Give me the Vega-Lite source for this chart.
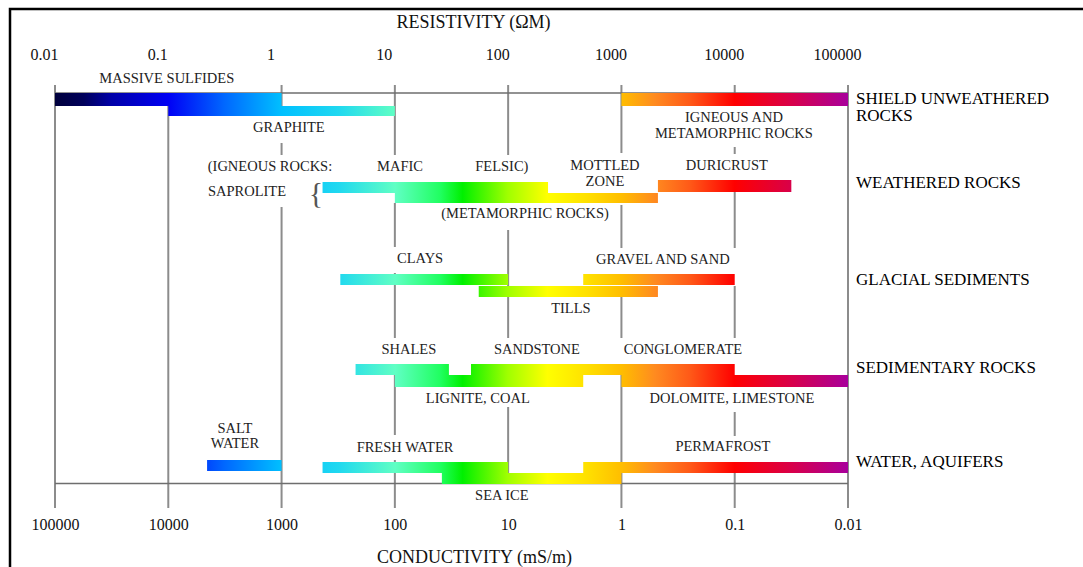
{
  "$schema": "https://vega.github.io/schema/vega-lite/v6.json",
  "width": 1079,
  "height": 564,
  "autosize": {"type": "none"},
  "padding": {"left": 10, "top": 9, "right": -6, "bottom": -6},
  "background": "white",
  "config": {"view": {"stroke": "#000", "strokeWidth": 2.5}, "text": {"font": "Liberation Serif"}},
  "data": {"values": [
    {"kind": "grid", "x": 0.01, "y": 19, "y2": 124.75},
    {"kind": "grid", "x": 0.1, "y": 24.25, "y2": 124.75},
    {"kind": "grid", "x": 1, "y": 19, "y2": 24.25},
    {"kind": "grid", "x": 1, "y": 33.5, "y2": 36.5},
    {"kind": "grid", "x": 1, "y": 49.5, "y2": 124.75},
    {"kind": "grid", "x": 10, "y": 19, "y2": 36.5},
    {"kind": "grid", "x": 10, "y": 48.5, "y2": 59.5},
    {"kind": "grid", "x": 10, "y": 66, "y2": 82.25},
    {"kind": "grid", "x": 10, "y": 91.5, "y2": 106.5},
    {"kind": "grid", "x": 10, "y": 112.75, "y2": 124.75},
    {"kind": "grid", "x": 100, "y": 19, "y2": 36.5},
    {"kind": "grid", "x": 100, "y": 55.25, "y2": 82.25},
    {"kind": "grid", "x": 100, "y": 99.5, "y2": 118.75},
    {"kind": "grid", "x": 1000, "y": 19, "y2": 36},
    {"kind": "grid", "x": 1000, "y": 49, "y2": 59.75},
    {"kind": "grid", "x": 1000, "y": 72, "y2": 82.25},
    {"kind": "grid", "x": 1000, "y": 91.5, "y2": 124.75},
    {"kind": "grid", "x": 10000, "y": 19, "y2": 21},
    {"kind": "grid", "x": 10000, "y": 34.5, "y2": 36.25},
    {"kind": "grid", "x": 10000, "y": 45.75, "y2": 59.75},
    {"kind": "grid", "x": 10000, "y": 69.25, "y2": 82.25},
    {"kind": "grid", "x": 10000, "y": 100.75, "y2": 106.75},
    {"kind": "grid", "x": 10000, "y": 116, "y2": 124.75},
    {"kind": "grid", "x": 100000, "y": 19, "y2": 124.75},
    {"kind": "hline", "x": 0.01, "x2": 100000, "y": 21},
    {"kind": "hline", "x": 0.01, "x2": 100000, "y": 118.6},
    {"kind": "bar", "name": "sulfides", "x": 0.01, "x2": 1, "y": 21, "y2": 24.25},
    {"kind": "bar", "name": "graphite", "x": 0.1, "x2": 10, "y": 24.25, "y2": 26.75},
    {"kind": "bar", "name": "igneous", "x": 1000, "x2": 100000, "y": 21, "y2": 24.25},
    {"kind": "bar", "name": "sap1", "x": 2.3, "x2": 225, "y": 43.25, "y2": 46},
    {"kind": "bar", "name": "sap2", "x": 10, "x2": 2100, "y": 46, "y2": 48.5},
    {"kind": "bar", "name": "duricrust", "x": 2100, "x2": 31600, "y": 42.75, "y2": 45.75},
    {"kind": "bar", "name": "clays", "x": 3.3, "x2": 100, "y": 66.25, "y2": 69},
    {"kind": "bar", "name": "gravel", "x": 460, "x2": 10000, "y": 66.25, "y2": 69},
    {"kind": "bar", "name": "tills", "x": 55, "x2": 2100, "y": 69.25, "y2": 72},
    {"kind": "bar", "name": "shales", "x": 4.5, "x2": 30, "y": 88.75, "y2": 91.5},
    {"kind": "bar", "name": "sandstone", "x": 47, "x2": 10000, "y": 88.75, "y2": 91.5},
    {"kind": "bar", "name": "lignite", "x": 10, "x2": 460, "y": 91.5, "y2": 94.5},
    {"kind": "bar", "name": "dolomite", "x": 1000, "x2": 100000, "y": 91.5, "y2": 94.5},
    {"kind": "bar", "name": "salt", "x": 0.22, "x2": 1, "y": 112.75, "y2": 115.5},
    {"kind": "bar", "name": "fresh", "x": 2.3, "x2": 100, "y": 113.25, "y2": 116},
    {"kind": "bar", "name": "seaice", "x": 26, "x2": 1000, "y": 116, "y2": 118.75},
    {"kind": "bar", "name": "permafrost", "x": 460, "x2": 100000, "y": 113.25, "y2": 116},
    {"kind": "label", "text": "MASSIVE SULFIDES", "x": 0.097, "y": 17.5},
    {"kind": "label", "text": "GRAPHITE", "x": 1.16, "y": 29.75},
    {"kind": "label", "text": "IGNEOUS AND", "x": 9840, "y": 27.25},
    {"kind": "label", "text": "METAMORPHIC ROCKS", "x": 9840, "y": 31.25},
    {"kind": "label", "text": "(IGNEOUS ROCKS:", "x": 0.79, "y": 39.5},
    {"kind": "label", "text": "MAFIC", "x": 11.1, "y": 39.5},
    {"kind": "label", "text": "FELSIC)", "x": 88, "y": 39.5},
    {"kind": "label", "text": "MOTTLED", "x": 715, "y": 39.25},
    {"kind": "label", "text": "ZONE", "x": 715, "y": 43.25},
    {"kind": "label", "text": "DURICRUST", "x": 8530, "y": 39.25},
    {"kind": "label", "text": "SAPROLITE", "x": 0.495, "y": 45.75},
    {"kind": "label", "text": "(METAMORPHIC ROCKS)", "x": 141, "y": 51.25},
    {"kind": "label", "text": "CLAYS", "x": 16.7, "y": 62.5},
    {"kind": "label", "text": "GRAVEL AND SAND", "x": 2323, "y": 62.75},
    {"kind": "label", "text": "TILLS", "x": 358, "y": 75},
    {"kind": "label", "text": "SHALES", "x": 13.3, "y": 85.25},
    {"kind": "label", "text": "SANDSTONE", "x": 179.5, "y": 85.25},
    {"kind": "label", "text": "CONGLOMERATE", "x": 3490, "y": 85.25},
    {"kind": "label", "text": "LIGNITE, COAL", "x": 54, "y": 97.5},
    {"kind": "label", "text": "DOLOMITE, LIMESTONE", "x": 9450, "y": 97.5},
    {"kind": "label", "text": "SALT", "x": 0.388, "y": 105},
    {"kind": "label", "text": "WATER", "x": 0.388, "y": 108.75},
    {"kind": "label", "text": "FRESH WATER", "x": 12.3, "y": 109.75},
    {"kind": "label", "text": "PERMAFROST", "x": 7870, "y": 109.5},
    {"kind": "label", "text": "SEA ICE", "x": 88, "y": 121.75},
    {"kind": "group", "text": "SHIELD UNWEATHERED", "x": 100000, "y": 22.375},
    {"kind": "group", "text": "ROCKS", "x": 100000, "y": 26.75},
    {"kind": "group", "text": "WEATHERED ROCKS", "x": 100000, "y": 43.5},
    {"kind": "group", "text": "GLACIAL SEDIMENTS", "x": 100000, "y": 67.75},
    {"kind": "group", "text": "SEDIMENTARY ROCKS", "x": 100000, "y": 89.75},
    {"kind": "group", "text": "WATER, AQUIFERS", "x": 100000, "y": 113.25},
    {"kind": "brace", "text": "{", "x": 2.01, "y": 46.25}
  ]},
  "encoding": {
    "x": {"field": "x", "type": "quantitative", "scale": {"type": "log", "domain": [0.01, 100000], "range": [45, 838], "nice": false}, "axis": null},
    "y": {"field": "y", "type": "quantitative", "scale": {"type": "linear", "domain": [0, 141], "range": [0, 564], "nice": false, "zero": false}, "axis": null}
  },
  "layer": [
    {
      "transform": [{"filter": "datum.kind === 'grid'"}],
      "mark": {"type": "rule", "color": "#8c8c8c", "strokeWidth": 2},
      "encoding": {
        "x": {"field": "x", "type": "quantitative", "scale": {"type": "log", "domain": [0.01, 100000], "range": [45, 838], "nice": false},
          "axis": {"orient": "bottom", "values": [0.01, 0.1, 1, 10, 100, 1000, 10000, 100000], "labelExpr": "format(1000 / datum.value, '~g')", "domain": false, "ticks": false, "tickSize": 0, "grid": false, "labelPadding": 0, "labelBaseline": "alphabetic", "labelFont": "Liberation Serif", "labelFontSize": 16, "labelColor": "#111", "labelFlush": false, "labelOverlap": false, "labelBound": false, "offset": -44, "title": "CONDUCTIVITY (mS/m)", "titleFont": "Liberation Serif", "titleFontSize": 18, "titleFontWeight": "normal", "titleColor": "#111", "titleX": 464, "titleY": 33, "titleBaseline": "alphabetic", "titleAlign": "center"}},
        "y2": {"field": "y2"}
      }
    },
    {
      "transform": [{"filter": "datum.kind === 'hline'"}],
      "mark": {"type": "rule", "color": "#6e6e6e", "strokeWidth": 1.5},
      "encoding": {
        "x": {"field": "x", "type": "quantitative", "scale": {"type": "log", "domain": [0.01, 100000], "range": [45, 838], "nice": false},
          "axis": {"orient": "top", "values": [0.01, 0.1, 1, 10, 100, 1000, 10000, 100000], "labelExpr": "format(datum.value, '~g')", "domain": false, "ticks": false, "tickSize": 0, "grid": false, "labelPadding": 0, "labelBaseline": "alphabetic", "labelFont": "Liberation Serif", "labelFontSize": 16, "labelColor": "#111", "labelOffset": -11, "labelFlush": false, "labelOverlap": false, "labelBound": false, "offset": -50, "title": "RESISTIVITY (ΩM)", "titleFont": "Liberation Serif", "titleFontSize": 18, "titleFontWeight": "normal", "titleColor": "#111", "titleX": 463, "titleY": -32, "titleBaseline": "alphabetic", "titleAlign": "center"}},
        "x2": {"field": "x2"}
      }
    },
    {"transform": [{"filter": "datum.name === 'sulfides'"}], "mark": {"type": "rect", "fill": {"gradient": "linear", "x1": 0, "x2": 3.5, "y1": 0, "y2": 0, "stops": [{"offset": 0, "color": "#00003c"}, {"offset": 0.036, "color": "#00005a"}, {"offset": 0.071, "color": "#0000a8"}, {"offset": 0.143, "color": "#0000f5"}, {"offset": 0.214, "color": "#0068ff"}, {"offset": 0.286, "color": "#00c0ff"}, {"offset": 0.357, "color": "#20d8f0"}, {"offset": 0.429, "color": "#60ffc4"}, {"offset": 0.486, "color": "#20ff60"}, {"offset": 0.514, "color": "#00f000"}, {"offset": 0.571, "color": "#a0ff00"}, {"offset": 0.621, "color": "#ffff00"}, {"offset": 0.671, "color": "#ffe000"}, {"offset": 0.714, "color": "#ffbe00"}, {"offset": 0.757, "color": "#ff8a20"}, {"offset": 0.8, "color": "#ff5a18"}, {"offset": 0.857, "color": "#ff0000"}, {"offset": 0.929, "color": "#d8004a"}, {"offset": 1, "color": "#a8009c"}]}}, "encoding": {"x2": {"field": "x2"}, "y2": {"field": "y2"}}},
    {"transform": [{"filter": "datum.name === 'graphite'"}], "mark": {"type": "rect", "fill": {"gradient": "linear", "x1": -0.5, "x2": 3, "y1": 0, "y2": 0, "stops": [{"offset": 0, "color": "#00003c"}, {"offset": 0.036, "color": "#00005a"}, {"offset": 0.071, "color": "#0000a8"}, {"offset": 0.143, "color": "#0000f5"}, {"offset": 0.214, "color": "#0068ff"}, {"offset": 0.286, "color": "#00c0ff"}, {"offset": 0.357, "color": "#20d8f0"}, {"offset": 0.429, "color": "#60ffc4"}, {"offset": 0.486, "color": "#20ff60"}, {"offset": 0.514, "color": "#00f000"}, {"offset": 0.571, "color": "#a0ff00"}, {"offset": 0.621, "color": "#ffff00"}, {"offset": 0.671, "color": "#ffe000"}, {"offset": 0.714, "color": "#ffbe00"}, {"offset": 0.757, "color": "#ff8a20"}, {"offset": 0.8, "color": "#ff5a18"}, {"offset": 0.857, "color": "#ff0000"}, {"offset": 0.929, "color": "#d8004a"}, {"offset": 1, "color": "#a8009c"}]}}, "encoding": {"x2": {"field": "x2"}, "y2": {"field": "y2"}}},
    {"transform": [{"filter": "datum.name === 'igneous'"}], "mark": {"type": "rect", "fill": {"gradient": "linear", "x1": -2.5, "x2": 1, "y1": 0, "y2": 0, "stops": [{"offset": 0, "color": "#00003c"}, {"offset": 0.036, "color": "#00005a"}, {"offset": 0.071, "color": "#0000a8"}, {"offset": 0.143, "color": "#0000f5"}, {"offset": 0.214, "color": "#0068ff"}, {"offset": 0.286, "color": "#00c0ff"}, {"offset": 0.357, "color": "#20d8f0"}, {"offset": 0.429, "color": "#60ffc4"}, {"offset": 0.486, "color": "#20ff60"}, {"offset": 0.514, "color": "#00f000"}, {"offset": 0.571, "color": "#a0ff00"}, {"offset": 0.621, "color": "#ffff00"}, {"offset": 0.671, "color": "#ffe000"}, {"offset": 0.714, "color": "#ffbe00"}, {"offset": 0.757, "color": "#ff8a20"}, {"offset": 0.8, "color": "#ff5a18"}, {"offset": 0.857, "color": "#ff0000"}, {"offset": 0.929, "color": "#d8004a"}, {"offset": 1, "color": "#a8009c"}]}}, "encoding": {"x2": {"field": "x2"}, "y2": {"field": "y2"}}},
    {"transform": [{"filter": "datum.name === 'sap1'"}], "mark": {"type": "rect", "fill": {"gradient": "linear", "x1": -1.1865, "x2": 2.3302, "y1": 0, "y2": 0, "stops": [{"offset": 0, "color": "#00003c"}, {"offset": 0.036, "color": "#00005a"}, {"offset": 0.071, "color": "#0000a8"}, {"offset": 0.143, "color": "#0000f5"}, {"offset": 0.214, "color": "#0068ff"}, {"offset": 0.286, "color": "#00c0ff"}, {"offset": 0.357, "color": "#20d8f0"}, {"offset": 0.429, "color": "#60ffc4"}, {"offset": 0.486, "color": "#20ff60"}, {"offset": 0.514, "color": "#00f000"}, {"offset": 0.571, "color": "#a0ff00"}, {"offset": 0.621, "color": "#ffff00"}, {"offset": 0.671, "color": "#ffe000"}, {"offset": 0.714, "color": "#ffbe00"}, {"offset": 0.757, "color": "#ff8a20"}, {"offset": 0.8, "color": "#ff5a18"}, {"offset": 0.857, "color": "#ff0000"}, {"offset": 0.929, "color": "#d8004a"}, {"offset": 1, "color": "#a8009c"}]}}, "encoding": {"x2": {"field": "x2"}, "y2": {"field": "y2"}}},
    {"transform": [{"filter": "datum.name === 'sap2'"}], "mark": {"type": "rect", "fill": {"gradient": "linear", "x1": -1.2919, "x2": 1.7225, "y1": 0, "y2": 0, "stops": [{"offset": 0, "color": "#00003c"}, {"offset": 0.036, "color": "#00005a"}, {"offset": 0.071, "color": "#0000a8"}, {"offset": 0.143, "color": "#0000f5"}, {"offset": 0.214, "color": "#0068ff"}, {"offset": 0.286, "color": "#00c0ff"}, {"offset": 0.357, "color": "#20d8f0"}, {"offset": 0.429, "color": "#60ffc4"}, {"offset": 0.486, "color": "#20ff60"}, {"offset": 0.514, "color": "#00f000"}, {"offset": 0.571, "color": "#a0ff00"}, {"offset": 0.621, "color": "#ffff00"}, {"offset": 0.671, "color": "#ffe000"}, {"offset": 0.714, "color": "#ffbe00"}, {"offset": 0.757, "color": "#ff8a20"}, {"offset": 0.8, "color": "#ff5a18"}, {"offset": 0.857, "color": "#ff0000"}, {"offset": 0.929, "color": "#d8004a"}, {"offset": 1, "color": "#a8009c"}]}}, "encoding": {"x2": {"field": "x2"}, "y2": {"field": "y2"}}},
    {"transform": [{"filter": "datum.name === 'duricrust'"}], "mark": {"type": "rect", "fill": {"gradient": "linear", "x1": -4.52, "x2": 1.4249, "y1": 0, "y2": 0, "stops": [{"offset": 0, "color": "#00003c"}, {"offset": 0.036, "color": "#00005a"}, {"offset": 0.071, "color": "#0000a8"}, {"offset": 0.143, "color": "#0000f5"}, {"offset": 0.214, "color": "#0068ff"}, {"offset": 0.286, "color": "#00c0ff"}, {"offset": 0.357, "color": "#20d8f0"}, {"offset": 0.429, "color": "#60ffc4"}, {"offset": 0.486, "color": "#20ff60"}, {"offset": 0.514, "color": "#00f000"}, {"offset": 0.571, "color": "#a0ff00"}, {"offset": 0.621, "color": "#ffff00"}, {"offset": 0.671, "color": "#ffe000"}, {"offset": 0.714, "color": "#ffbe00"}, {"offset": 0.757, "color": "#ff8a20"}, {"offset": 0.8, "color": "#ff5a18"}, {"offset": 0.857, "color": "#ff0000"}, {"offset": 0.929, "color": "#d8004a"}, {"offset": 1, "color": "#a8009c"}]}}, "encoding": {"x2": {"field": "x2"}, "y2": {"field": "y2"}}},
    {"transform": [{"filter": "datum.name === 'clays'"}], "mark": {"type": "rect", "fill": {"gradient": "linear", "x1": -1.7, "x2": 3.025, "y1": 0, "y2": 0, "stops": [{"offset": 0, "color": "#00003c"}, {"offset": 0.036, "color": "#00005a"}, {"offset": 0.071, "color": "#0000a8"}, {"offset": 0.143, "color": "#0000f5"}, {"offset": 0.214, "color": "#0068ff"}, {"offset": 0.286, "color": "#00c0ff"}, {"offset": 0.357, "color": "#20d8f0"}, {"offset": 0.429, "color": "#60ffc4"}, {"offset": 0.486, "color": "#20ff60"}, {"offset": 0.514, "color": "#00f000"}, {"offset": 0.571, "color": "#a0ff00"}, {"offset": 0.621, "color": "#ffff00"}, {"offset": 0.671, "color": "#ffe000"}, {"offset": 0.714, "color": "#ffbe00"}, {"offset": 0.757, "color": "#ff8a20"}, {"offset": 0.8, "color": "#ff5a18"}, {"offset": 0.857, "color": "#ff0000"}, {"offset": 0.929, "color": "#d8004a"}, {"offset": 1, "color": "#a8009c"}]}}, "encoding": {"x2": {"field": "x2"}, "y2": {"field": "y2"}}},
    {"transform": [{"filter": "datum.name === 'gravel'"}], "mark": {"type": "rect", "fill": {"gradient": "linear", "x1": -3.487, "x2": 1.7478, "y1": 0, "y2": 0, "stops": [{"offset": 0, "color": "#00003c"}, {"offset": 0.036, "color": "#00005a"}, {"offset": 0.071, "color": "#0000a8"}, {"offset": 0.143, "color": "#0000f5"}, {"offset": 0.214, "color": "#0068ff"}, {"offset": 0.286, "color": "#00c0ff"}, {"offset": 0.357, "color": "#20d8f0"}, {"offset": 0.429, "color": "#60ffc4"}, {"offset": 0.486, "color": "#20ff60"}, {"offset": 0.514, "color": "#00f000"}, {"offset": 0.571, "color": "#a0ff00"}, {"offset": 0.621, "color": "#ffff00"}, {"offset": 0.671, "color": "#ffe000"}, {"offset": 0.714, "color": "#ffbe00"}, {"offset": 0.757, "color": "#ff8a20"}, {"offset": 0.8, "color": "#ff5a18"}, {"offset": 0.857, "color": "#ff0000"}, {"offset": 0.929, "color": "#d8004a"}, {"offset": 1, "color": "#a8009c"}]}}, "encoding": {"x2": {"field": "x2"}, "y2": {"field": "y2"}}},
    {"transform": [{"filter": "datum.name === 'tills'"}], "mark": {"type": "rect", "fill": {"gradient": "linear", "x1": -2.3646, "x2": 2.0607, "y1": 0, "y2": 0, "stops": [{"offset": 0, "color": "#00003c"}, {"offset": 0.036, "color": "#00005a"}, {"offset": 0.071, "color": "#0000a8"}, {"offset": 0.143, "color": "#0000f5"}, {"offset": 0.214, "color": "#0068ff"}, {"offset": 0.286, "color": "#00c0ff"}, {"offset": 0.357, "color": "#20d8f0"}, {"offset": 0.429, "color": "#60ffc4"}, {"offset": 0.486, "color": "#20ff60"}, {"offset": 0.514, "color": "#00f000"}, {"offset": 0.571, "color": "#a0ff00"}, {"offset": 0.621, "color": "#ffff00"}, {"offset": 0.671, "color": "#ffe000"}, {"offset": 0.714, "color": "#ffbe00"}, {"offset": 0.757, "color": "#ff8a20"}, {"offset": 0.8, "color": "#ff5a18"}, {"offset": 0.857, "color": "#ff0000"}, {"offset": 0.929, "color": "#d8004a"}, {"offset": 1, "color": "#a8009c"}]}}, "encoding": {"x2": {"field": "x2"}, "y2": {"field": "y2"}}},
    {"transform": [{"filter": "datum.name === 'shales'"}], "mark": {"type": "rect", "fill": {"gradient": "linear", "x1": -3.2203, "x2": 5.2759, "y1": 0, "y2": 0, "stops": [{"offset": 0, "color": "#00003c"}, {"offset": 0.036, "color": "#00005a"}, {"offset": 0.071, "color": "#0000a8"}, {"offset": 0.143, "color": "#0000f5"}, {"offset": 0.214, "color": "#0068ff"}, {"offset": 0.286, "color": "#00c0ff"}, {"offset": 0.357, "color": "#20d8f0"}, {"offset": 0.429, "color": "#60ffc4"}, {"offset": 0.486, "color": "#20ff60"}, {"offset": 0.514, "color": "#00f000"}, {"offset": 0.571, "color": "#a0ff00"}, {"offset": 0.621, "color": "#ffff00"}, {"offset": 0.671, "color": "#ffe000"}, {"offset": 0.714, "color": "#ffbe00"}, {"offset": 0.757, "color": "#ff8a20"}, {"offset": 0.8, "color": "#ff5a18"}, {"offset": 0.857, "color": "#ff0000"}, {"offset": 0.929, "color": "#d8004a"}, {"offset": 1, "color": "#a8009c"}]}}, "encoding": {"x2": {"field": "x2"}, "y2": {"field": "y2"}}},
    {"transform": [{"filter": "datum.name === 'sandstone'"}], "mark": {"type": "rect", "fill": {"gradient": "linear", "x1": -1.5774, "x2": 1.4296, "y1": 0, "y2": 0, "stops": [{"offset": 0, "color": "#00003c"}, {"offset": 0.036, "color": "#00005a"}, {"offset": 0.071, "color": "#0000a8"}, {"offset": 0.143, "color": "#0000f5"}, {"offset": 0.214, "color": "#0068ff"}, {"offset": 0.286, "color": "#00c0ff"}, {"offset": 0.357, "color": "#20d8f0"}, {"offset": 0.429, "color": "#60ffc4"}, {"offset": 0.486, "color": "#20ff60"}, {"offset": 0.514, "color": "#00f000"}, {"offset": 0.571, "color": "#a0ff00"}, {"offset": 0.621, "color": "#ffff00"}, {"offset": 0.671, "color": "#ffe000"}, {"offset": 0.714, "color": "#ffbe00"}, {"offset": 0.757, "color": "#ff8a20"}, {"offset": 0.8, "color": "#ff5a18"}, {"offset": 0.857, "color": "#ff0000"}, {"offset": 0.929, "color": "#d8004a"}, {"offset": 1, "color": "#a8009c"}]}}, "encoding": {"x2": {"field": "x2"}, "y2": {"field": "y2"}}},
    {"transform": [{"filter": "datum.name === 'lignite'"}], "mark": {"type": "rect", "fill": {"gradient": "linear", "x1": -1.8042, "x2": 2.4056, "y1": 0, "y2": 0, "stops": [{"offset": 0, "color": "#00003c"}, {"offset": 0.036, "color": "#00005a"}, {"offset": 0.071, "color": "#0000a8"}, {"offset": 0.143, "color": "#0000f5"}, {"offset": 0.214, "color": "#0068ff"}, {"offset": 0.286, "color": "#00c0ff"}, {"offset": 0.357, "color": "#20d8f0"}, {"offset": 0.429, "color": "#60ffc4"}, {"offset": 0.486, "color": "#20ff60"}, {"offset": 0.514, "color": "#00f000"}, {"offset": 0.571, "color": "#a0ff00"}, {"offset": 0.621, "color": "#ffff00"}, {"offset": 0.671, "color": "#ffe000"}, {"offset": 0.714, "color": "#ffbe00"}, {"offset": 0.757, "color": "#ff8a20"}, {"offset": 0.8, "color": "#ff5a18"}, {"offset": 0.857, "color": "#ff0000"}, {"offset": 0.929, "color": "#d8004a"}, {"offset": 1, "color": "#a8009c"}]}}, "encoding": {"x2": {"field": "x2"}, "y2": {"field": "y2"}}},
    {"transform": [{"filter": "datum.name === 'dolomite'"}], "mark": {"type": "rect", "fill": {"gradient": "linear", "x1": -2.5, "x2": 1, "y1": 0, "y2": 0, "stops": [{"offset": 0, "color": "#00003c"}, {"offset": 0.036, "color": "#00005a"}, {"offset": 0.071, "color": "#0000a8"}, {"offset": 0.143, "color": "#0000f5"}, {"offset": 0.214, "color": "#0068ff"}, {"offset": 0.286, "color": "#00c0ff"}, {"offset": 0.357, "color": "#20d8f0"}, {"offset": 0.429, "color": "#60ffc4"}, {"offset": 0.486, "color": "#20ff60"}, {"offset": 0.514, "color": "#00f000"}, {"offset": 0.571, "color": "#a0ff00"}, {"offset": 0.621, "color": "#ffff00"}, {"offset": 0.671, "color": "#ffe000"}, {"offset": 0.714, "color": "#ffbe00"}, {"offset": 0.757, "color": "#ff8a20"}, {"offset": 0.8, "color": "#ff5a18"}, {"offset": 0.857, "color": "#ff0000"}, {"offset": 0.929, "color": "#d8004a"}, {"offset": 1, "color": "#a8009c"}]}}, "encoding": {"x2": {"field": "x2"}, "y2": {"field": "y2"}}},
    {"transform": [{"filter": "datum.name === 'salt'"}], "mark": {"type": "rect", "fill": {"gradient": "linear", "x1": -2.0414, "x2": 8.6034, "y1": 0, "y2": 0, "stops": [{"offset": 0, "color": "#00003c"}, {"offset": 0.036, "color": "#00005a"}, {"offset": 0.071, "color": "#0000a8"}, {"offset": 0.143, "color": "#0000f5"}, {"offset": 0.214, "color": "#0068ff"}, {"offset": 0.286, "color": "#00c0ff"}, {"offset": 0.357, "color": "#20d8f0"}, {"offset": 0.429, "color": "#60ffc4"}, {"offset": 0.486, "color": "#20ff60"}, {"offset": 0.514, "color": "#00f000"}, {"offset": 0.571, "color": "#a0ff00"}, {"offset": 0.621, "color": "#ffff00"}, {"offset": 0.671, "color": "#ffe000"}, {"offset": 0.714, "color": "#ffbe00"}, {"offset": 0.757, "color": "#ff8a20"}, {"offset": 0.8, "color": "#ff5a18"}, {"offset": 0.857, "color": "#ff0000"}, {"offset": 0.929, "color": "#d8004a"}, {"offset": 1, "color": "#a8009c"}]}}, "encoding": {"x2": {"field": "x2"}, "y2": {"field": "y2"}}},
    {"transform": [{"filter": "datum.name === 'fresh'"}], "mark": {"type": "rect", "fill": {"gradient": "linear", "x1": -1.4416, "x2": 2.8312, "y1": 0, "y2": 0, "stops": [{"offset": 0, "color": "#00003c"}, {"offset": 0.036, "color": "#00005a"}, {"offset": 0.071, "color": "#0000a8"}, {"offset": 0.143, "color": "#0000f5"}, {"offset": 0.214, "color": "#0068ff"}, {"offset": 0.286, "color": "#00c0ff"}, {"offset": 0.357, "color": "#20d8f0"}, {"offset": 0.429, "color": "#60ffc4"}, {"offset": 0.486, "color": "#20ff60"}, {"offset": 0.514, "color": "#00f000"}, {"offset": 0.571, "color": "#a0ff00"}, {"offset": 0.621, "color": "#ffff00"}, {"offset": 0.671, "color": "#ffe000"}, {"offset": 0.714, "color": "#ffbe00"}, {"offset": 0.757, "color": "#ff8a20"}, {"offset": 0.8, "color": "#ff5a18"}, {"offset": 0.857, "color": "#ff0000"}, {"offset": 0.929, "color": "#d8004a"}, {"offset": 1, "color": "#a8009c"}]}}, "encoding": {"x2": {"field": "x2"}, "y2": {"field": "y2"}}},
    {"transform": [{"filter": "datum.name === 'seaice'"}], "mark": {"type": "rect", "fill": {"gradient": "linear", "x1": -2.1546, "x2": 2.2618, "y1": 0, "y2": 0, "stops": [{"offset": 0, "color": "#00003c"}, {"offset": 0.036, "color": "#00005a"}, {"offset": 0.071, "color": "#0000a8"}, {"offset": 0.143, "color": "#0000f5"}, {"offset": 0.214, "color": "#0068ff"}, {"offset": 0.286, "color": "#00c0ff"}, {"offset": 0.357, "color": "#20d8f0"}, {"offset": 0.429, "color": "#60ffc4"}, {"offset": 0.486, "color": "#20ff60"}, {"offset": 0.514, "color": "#00f000"}, {"offset": 0.571, "color": "#a0ff00"}, {"offset": 0.621, "color": "#ffff00"}, {"offset": 0.671, "color": "#ffe000"}, {"offset": 0.714, "color": "#ffbe00"}, {"offset": 0.757, "color": "#ff8a20"}, {"offset": 0.8, "color": "#ff5a18"}, {"offset": 0.857, "color": "#ff0000"}, {"offset": 0.929, "color": "#d8004a"}, {"offset": 1, "color": "#a8009c"}]}}, "encoding": {"x2": {"field": "x2"}, "y2": {"field": "y2"}}},
    {"transform": [{"filter": "datum.name === 'permafrost'"}], "mark": {"type": "rect", "fill": {"gradient": "linear", "x1": -1.9951, "x2": 1, "y1": 0, "y2": 0, "stops": [{"offset": 0, "color": "#00003c"}, {"offset": 0.036, "color": "#00005a"}, {"offset": 0.071, "color": "#0000a8"}, {"offset": 0.143, "color": "#0000f5"}, {"offset": 0.214, "color": "#0068ff"}, {"offset": 0.286, "color": "#00c0ff"}, {"offset": 0.357, "color": "#20d8f0"}, {"offset": 0.429, "color": "#60ffc4"}, {"offset": 0.486, "color": "#20ff60"}, {"offset": 0.514, "color": "#00f000"}, {"offset": 0.571, "color": "#a0ff00"}, {"offset": 0.621, "color": "#ffff00"}, {"offset": 0.671, "color": "#ffe000"}, {"offset": 0.714, "color": "#ffbe00"}, {"offset": 0.757, "color": "#ff8a20"}, {"offset": 0.8, "color": "#ff5a18"}, {"offset": 0.857, "color": "#ff0000"}, {"offset": 0.929, "color": "#d8004a"}, {"offset": 1, "color": "#a8009c"}]}}, "encoding": {"x2": {"field": "x2"}, "y2": {"field": "y2"}}},
    {
      "transform": [{"filter": "datum.kind === 'label'"}],
      "mark": {"type": "text", "font": "Liberation Serif", "fontSize": 14.5, "color": "#222", "align": "center", "baseline": "middle"},
      "encoding": {"text": {"field": "text"}}
    },
    {
      "transform": [{"filter": "datum.kind === 'group'"}],
      "mark": {"type": "text", "font": "Liberation Serif", "fontSize": 17, "color": "#000", "align": "left", "baseline": "middle", "dx": 8},
      "encoding": {"text": {"field": "text"}}
    },
    {
      "transform": [{"filter": "datum.kind === 'brace'"}],
      "mark": {"type": "text", "font": "Liberation Serif", "fontSize": 30, "color": "#555", "align": "center", "baseline": "middle"},
      "encoding": {"text": {"field": "text"}}
    }
  ],
  "resolve": {"axis": {"x": "independent"}}
}
